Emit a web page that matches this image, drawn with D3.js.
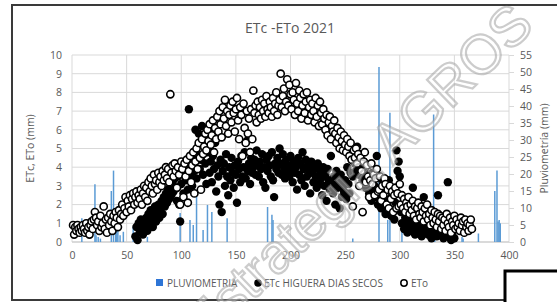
<!DOCTYPE html>
<html>
<head>
<meta charset="utf-8">
<script src="https://cdn.jsdelivr.net/npm/d3@7"></script>
<style>
  body { margin: 0; background: #fff; }
  svg { display: block; font-family: "Open Sans", Roboto, sans-serif; }
</style>
</head>
<body>
<svg id="chart" width="557" height="302"></svg>
<script>
// ETo, daily values from day 1
const etoValues = [
  0.9, 0.4, 0.8, 0.6, 0.9, 0.7, 0.5, 0.8, 0.6, 0.9,
  0.7, 0.5, 1.0, 0.6, 0.8, 0.4, 0.9, 1.1, 0.7, 1.2,
  1.6, 1.3, 0.9, 1.1, 0.6, 1.4, 0.8, 1.0, 1.9, 0.7,
  1.2, 0.5, 1.3, 0.9, 1.5, 1.1, 0.6, 1.4, 1.0, 1.6,
  1.3, 0.8, 1.7, 1.2, 1.5, 2.0, 1.4, 1.8, 2.4, 1.6,
  2.2, 1.9, 2.5, 1.7, 2.3, 2.6, 2.0, 2.4, 2.7, 2.1,
  2.5, 2.3, 2.8, 2.0, 2.6, 3.0, 2.4, 2.9, 2.2, 3.2,
  2.7, 3.4, 3.0, 2.6, 3.6, 3.1, 3.3, 2.8, 3.7, 3.2,
  3.5, 3.0, 3.8, 3.3, 3.6, 4.0, 3.4, 3.9, 3.2, 7.9,
  3.7, 4.1, 3.5, 4.2, 3.8, 2.9, 4.0, 3.6, 2.0, 4.3,
  3.9, 2.4, 4.2, 3.5, 4.4, 2.1, 3.8, 4.6, 3.2, 4.1,
  4.8, 2.6, 4.3, 5.0, 3.9, 5.3, 4.5, 2.8, 5.5, 4.7,
  5.1, 5.8, 4.9, 6.0, 5.4, 6.3, 5.2, 5.7, 6.5, 4.8,
  6.1, 5.5, 6.7, 5.9, 7.0, 6.3, 5.6, 7.2, 6.6, 7.6,
  6.2, 7.0, 5.8, 6.8, 7.3, 6.4, 7.5, 6.9, 5.9, 7.1,
  7.7, 6.5, 5.5, 7.2, 6.8, 4.6, 7.4, 6.1, 5.3, 7.0,
  5.8, 6.6, 4.8, 7.1, 5.5, 8.1, 6.9, 7.3, 6.4, 7.5,
  6.8, 7.2, 6.6, 7.6, 7.0, 7.4, 6.7, 7.8, 7.1, 6.9,
  7.5, 7.2, 6.7, 7.7, 7.0, 7.4, 8.0, 6.8, 7.3, 7.6,
  9.0, 7.2, 7.8, 8.2, 7.0, 7.5, 8.7, 7.3, 8.4, 7.9,
  7.1, 8.0, 7.6, 6.8, 8.5, 7.4, 7.0, 8.1, 7.7, 6.6,
  7.3, 7.9, 6.9, 7.5, 8.0, 6.5, 7.2, 7.6, 6.8, 7.4,
  7.0, 6.4, 7.7, 6.7, 7.3, 6.2, 7.5, 6.9, 6.3, 7.1,
  6.6, 6.0, 6.8, 5.7, 6.4, 6.7, 5.5, 6.2, 5.9, 6.5,
  5.8, 5.3, 6.1, 5.6, 5.0, 5.9, 5.4, 4.9, 5.7, 5.2,
  4.8, 5.5, 5.1, 4.6, 5.3, 4.4, 1.9, 4.9, 4.5, 5.0,
  4.2, 4.7, 3.0, 4.5, 3.8, 1.6, 4.3, 4.8, 3.2, 4.1,
  3.5, 2.4, 3.3, 4.2, 3.1, 3.6, 2.5, 3.4, 3.9, 2.7,
  2.8, 3.5, 2.2, 3.0, 2.5, 3.4, 3.1, 2.0, 2.8, 1.8,
  3.0, 2.3, 2.7, 1.6, 2.5, 2.9, 1.8, 2.6, 1.9, 3.1,
  2.0, 2.5, 1.8, 2.3, 1.6, 2.1, 1.9, 2.4, 1.5, 2.0,
  1.7, 2.2, 1.4, 1.9, 1.2, 1.8, 2.1, 1.5, 1.3, 1.9,
  1.6, 1.1, 1.8, 1.4, 2.0, 1.2, 1.5, 0.9, 1.7, 1.3,
  1.0, 1.6, 1.2, 0.8, 1.5, 1.1, 1.4, 0.7, 1.3, 0.9,
  1.2, 0.6, 1.5, 1.0, 0.8, 1.3, 0.5, 1.1, 0.9, 1.4,
  0.7, 1.2, 0.8, 1.0, 0.6, 1.3, 0.9, 1.1, 0.5, 1.2,
  0.8, 1.0, 0.6, 0.9, 1.2, 0.7
];

// ETc higuera dias secos, daily values from day 58
const etcStartDay = 58;
const etcValues = [
  0.3, 0.8, 0.1, 1.0, 0.5, 1.2, 0.7, 0.4, 1.1, 0.9,
  1.3, 0.6, 1.5, 1.0, 1.7, 1.2, 0.8, 1.4, 1.9, 1.1,
  1.6, 2.0, 1.3, 1.8, 2.2, 1.5, 2.4, 1.9, 2.6, 2.1,
  2.8, 2.3, 3.0, 2.5, 3.2, 2.7, 3.4, 2.9, 2.2, 3.5,
  2.0, 1.1, 3.1, 3.7, 2.6, 4.0, 3.3, 4.3, 2.8, 7.1,
  3.6, 4.1, 3.0, 4.5, 3.8, 6.0, 3.4, 4.7, 5.8, 3.9,
  4.4, 6.2, 3.6, 5.5, 4.2, 3.1, 4.8, 5.9, 3.7, 4.3,
  3.2, 4.6, 3.9, 5.3, 2.7, 4.1, 3.5, 2.0, 4.4, 1.6,
  3.8, 4.2, 3.0, 4.7, 3.5, 2.5, 4.0, 3.3, 4.5, 3.7,
  2.9, 4.1, 3.6, 2.1, 4.3, 3.9, 3.2, 4.6, 3.5, 4.0,
  4.8, 3.4, 5.4, 3.8, 4.2, 3.1, 4.5, 3.7, 4.0, 4.4,
  3.6, 4.9, 4.1, 3.5, 4.3, 3.9, 4.7, 3.2, 4.0, 2.9,
  4.4, 3.8, 4.6, 4.1, 3.5, 4.8, 3.3, 2.4, 4.2, 3.9,
  4.5, 3.7, 5.0, 4.2, 3.6, 4.7, 4.0, 3.4, 4.4, 3.8,
  4.1, 3.5, 4.6, 3.9, 3.2, 4.3, 3.7, 4.0, 2.8, 4.5,
  3.6, 4.2, 3.3, 4.8, 3.9, 3.0, 4.4, 3.5, 4.1, 3.8,
  2.6, 4.3, 3.7, 3.2, 4.0, 3.5, 2.9, 4.2, 3.1, 3.8,
  3.4, 2.5, 4.0, 3.0, 3.6, 2.2, 3.9, 3.3, 2.8, 4.6,
  3.1, 2.6, 3.5, 2.0, 3.8, 2.9, 3.2, 1.8, 3.6, 2.4,
  3.0, 2.7, 3.3, 2.3, 4.0, 3.1, 2.6, 3.7, 4.4, 3.5,
  4.9, 4.2, 3.8, 5.1, 4.5, 3.6, 4.7, 4.0, 3.3, 4.3,
  3.9, 2.9, 3.5, 4.1, 2.6, 3.2, 2.2, 3.7, 2.8, 3.0,
  2.4, 4.6, 2.0, 2.7, 3.4, 1.8, 2.5, 3.1, 2.2, 1.5,
  2.8, 1.9, 3.3, 2.3, 1.4, 2.6, 1.7, 1.2, 2.1, 4.9,
  3.8, 4.3, 3.5, 1.6, 1.0, 1.9, 0.7, 1.3, 0.9, 0.5,
  1.2, 0.8, 1.5, 0.6, 2.9, 1.1, 0.4, 0.9, 1.3, 0.7,
  0.5, 1.0, 0.3, 0.8, 2.4, 1.2, 0.6, 0.9, 0.4, 1.1,
  0.7, 0.2, 1.0, 0.5, 1.3, 0.8, 0.3, 2.5, 0.6, 1.0,
  0.4, 0.9, 0.2, 1.2, 0.6, 0.3, 3.2, 0.8, 0.5, 0.1,
  0.4, 0.7, 0.2
];

// pluviometria: day of year and mm
const rainDays = [9, 21, 22, 24, 26, 36, 38, 40, 41, 42, 44, 47, 56, 60, 69,
  99, 108, 111, 114, 120, 124, 128, 142, 179, 183, 184, 257, 281, 289, 291,
  302, 331, 332, 357, 358, 372, 387, 389, 390, 391, 392];
const rainMm = [7, 17, 2, 1.5, 1, 15, 21, 8, 5, 3.5, 2, 3, 4.5, 2, 1.5,
  8.5, 6.5, 5, 14.7, 3.5, 10.9, 8.8, 7, 10.3, 8, 6.5, 1, 51.5, 6.5, 38,
  3, 37.5, 4, 1.5, 1, 2.5, 15, 21, 6, 6.5, 5.5];

const xTicks = [0, 50, 100, 150, 200, 250, 300, 350, 400];
const yTicks = [0, 1, 2, 3, 4, 5, 6, 7, 8, 9, 10];
const y2Ticks = [0, 5, 10, 15, 20, 25, 30, 35, 40, 45, 50, 55];

const titleText = 'ETc -ETo 2021';
const legendLabels = ['PLUVIOMETRIA', 'ETc HIGUERA DIAS SECOS', 'ETo'];

const textColor = '#595959';
const gridColor = '#d9d9d9';
const rainColor = '#5b9bd5';

const svg = d3.select('#chart');
const plotLeft = 72, plotRight = 509, plotTop = 55, plotBottom = 242;

const x = d3.scaleLinear().domain([0, 400]).range([plotLeft, plotRight]);
const y = d3.scaleLinear().domain([0, 10]).range([plotBottom, plotTop]);
const y2 = d3.scaleLinear().domain([0, 55]).range([plotBottom, plotTop]);

// outer frame
svg.append('rect')
  .attr('x', 12).attr('y', 5)
  .attr('width', 560).attr('height', 295)
  .attr('fill', '#fff')
  .attr('stroke', '#3a3a3a')
  .attr('stroke-width', 2);

svg.append('text')
  .attr('x', 290).attr('y', 33)
  .attr('text-anchor', 'middle')
  .attr('font-size', 14)
  .attr('fill', textColor)
  .text(titleText);

// gridlines
svg.append('g')
  .selectAll('line')
  .data(yTicks)
  .join('line')
  .attr('x1', plotLeft).attr('x2', plotRight)
  .attr('y1', d => y(d)).attr('y2', d => y(d))
  .attr('stroke', gridColor);

svg.append('g')
  .selectAll('line')
  .data(xTicks)
  .join('line')
  .attr('x1', d => x(d)).attr('x2', d => x(d))
  .attr('y1', plotTop).attr('y2', plotBottom)
  .attr('stroke', gridColor);

// axes
const xAxis = svg.append('g')
  .attr('transform', `translate(0,${plotBottom})`)
  .call(d3.axisBottom(x).tickValues(xTicks).tickSize(0).tickPadding(10));

const yAxis = svg.append('g')
  .attr('transform', `translate(${plotLeft},0)`)
  .call(d3.axisLeft(y).tickValues(yTicks).tickSize(0).tickPadding(10));

const y2Axis = svg.append('g')
  .attr('transform', `translate(${plotRight},0)`)
  .call(d3.axisRight(y2).tickValues(y2Ticks).tickSize(5).tickPadding(6));

[xAxis, yAxis, y2Axis].forEach(a => {
  a.select('.domain').remove();
  a.selectAll('text').attr('fill', textColor).attr('font-size', 10.5)
    .attr('font-family', '"Open Sans", Roboto, sans-serif');
  a.selectAll('line').attr('stroke', gridColor);
});
svg.append('line')
  .attr('x1', plotLeft).attr('x2', plotRight)
  .attr('y1', plotBottom).attr('y2', plotBottom)
  .attr('stroke', '#c8c8c8');

svg.append('text')
  .attr('transform', `translate(34,${(plotTop + plotBottom) / 2}) rotate(-90)`)
  .attr('text-anchor', 'middle')
  .attr('font-size', 10.5)
  .attr('fill', textColor)
  .text('ETc, ETo (mm)');

svg.append('text')
  .attr('transform', `translate(548,${(plotTop + plotBottom) / 2}) rotate(-90)`)
  .attr('text-anchor', 'middle')
  .attr('font-size', 10.5)
  .attr('fill', textColor)
  .text('Pluviometría (mm)');

// rain bars
svg.append('g')
  .selectAll('line')
  .data(rainDays.map((d, i) => ({ day: d, mm: rainMm[i] })))
  .join('line')
  .attr('x1', d => x(d.day)).attr('x2', d => x(d.day))
  .attr('y1', plotBottom).attr('y2', d => y2(d.mm))
  .attr('stroke', rainColor)
  .attr('stroke-width', 1.5);

// ETc filled
svg.append('g')
  .selectAll('circle')
  .data(etcValues.map((v, i) => ({ day: etcStartDay + i, v })))
  .join('circle')
  .attr('cx', d => x(d.day)).attr('cy', d => y(d.v))
  .attr('r', 4.2)
  .attr('fill', '#000');

// ETo open
svg.append('g')
  .selectAll('circle')
  .data(etoValues.map((v, i) => ({ day: i + 1, v })))
  .join('circle')
  .attr('cx', d => x(d.day)).attr('cy', d => y(d.v))
  .attr('r', 3.6)
  .attr('fill', '#fff')
  .attr('stroke', '#000')
  .attr('stroke-width', 1.6);

// legend
const lg = svg.append('g').attr('font-size', 10).attr('fill', textColor);
lg.append('rect').attr('x', 156).attr('y', 279).attr('width', 7).attr('height', 7).attr('fill', '#2e75d6');
lg.append('text').attr('x', 167).attr('y', 287).text(legendLabels[0]);
lg.append('circle').attr('cx', 258).attr('cy', 283).attr('r', 3.8).attr('fill', '#000');
lg.append('text').attr('x', 264).attr('y', 287).text(legendLabels[1]);
lg.append('circle').attr('cx', 404).attr('cy', 283).attr('r', 3.2).attr('fill', '#fff').attr('stroke', '#000').attr('stroke-width', 1.5);
lg.append('text').attr('x', 411).attr('y', 287).text(legendLabels[2]);

// watermark
svg.append('text')
  .attr('transform', 'translate(206,346) rotate(-44)')
  .attr('font-size', 55)
  .attr('font-family', '"Liberation Sans", sans-serif')
  .attr('fill', '#fff')
  .attr('fill-opacity', 0.4)
  .attr('stroke', '#9a9a9a')
  .attr('stroke-opacity', 0.5)
  .attr('stroke-width', 2.2)
  .text('Estrategia AGROS');

// neighbouring box in the corner
svg.append('rect')
  .attr('x', 505).attr('y', 271)
  .attr('width', 60).attr('height', 40)
  .attr('fill', '#fff')
  .attr('stroke', '#000')
  .attr('stroke-width', 3);
</script>
</body>
</html>
